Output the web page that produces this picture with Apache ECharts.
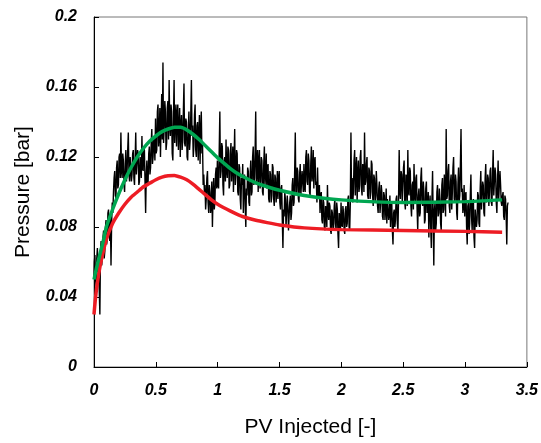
<!DOCTYPE html>
<html>
<head>
<meta charset="utf-8">
<script src="https://cdn.jsdelivr.net/npm/echarts@6/dist/echarts.min.js"></script>
<style>
  html, body { margin: 0; padding: 0; background: #fff; }
  #chart { width: 541px; height: 443px; }
</style>
</head>
<body>
<div id="chart"></div>
<script>
// Measured pressure record, one sample every 0.005 PV (20 samples per row = 0.1 PV)
const sampleStep = 0.005;
const measuredPressure = [
  0.052,0.060,0.064,0.050,0.046,0.062,0.068,0.054,0.056,0.044,0.030,0.066,0.072,0.058,0.064,0.074,0.078,0.062,0.066,0.080,
  0.084,0.070,0.074,0.088,0.090,0.076,0.072,0.086,0.058,0.082,0.094,0.088,0.100,0.108,0.112,0.098,0.096,0.114,0.118,0.102,
  0.104,0.120,0.122,0.108,0.134,0.112,0.108,0.122,0.118,0.104,0.100,0.116,0.124,0.106,0.112,0.124,0.134,0.110,0.106,0.120,
  0.120,0.106,0.110,0.122,0.124,0.108,0.104,0.118,0.134,0.110,0.116,0.124,0.122,0.104,0.106,0.120,0.120,0.108,0.132,0.114,
  0.112,0.126,0.124,0.106,0.088,0.110,0.118,0.104,0.106,0.122,0.126,0.110,0.114,0.128,0.136,0.116,0.120,0.132,0.128,0.118,
  0.142,0.122,0.124,0.146,0.150,0.126,0.132,0.148,0.120,0.140,0.156,0.130,0.174,0.128,0.136,0.152,0.146,0.124,0.128,0.148,
  0.152,0.130,0.164,0.138,0.132,0.150,0.146,0.122,0.118,0.142,0.164,0.128,0.140,0.150,0.126,0.144,0.150,0.124,0.136,0.148,
  0.120,0.138,0.144,0.124,0.130,0.146,0.162,0.128,0.126,0.142,0.140,0.120,0.118,0.136,0.146,0.124,0.130,0.144,0.164,0.132,
  0.138,0.120,0.126,0.144,0.150,0.124,0.120,0.138,0.140,0.118,0.132,0.144,0.116,0.134,0.146,0.122,0.128,0.104,0.110,0.100,
  0.104,0.090,0.096,0.108,0.112,0.094,0.088,0.104,0.100,0.088,0.092,0.106,0.080,0.098,0.108,0.090,0.094,0.110,0.114,0.102,
  0.118,0.104,0.102,0.124,0.146,0.108,0.112,0.128,0.126,0.104,0.098,0.118,0.120,0.106,0.130,0.112,0.108,0.126,0.124,0.102,
  0.104,0.122,0.128,0.106,0.116,0.126,0.100,0.118,0.136,0.104,0.110,0.124,0.122,0.100,0.098,0.116,0.114,0.096,0.090,0.108,
  0.104,0.116,0.088,0.106,0.110,0.092,0.080,0.102,0.098,0.114,0.112,0.094,0.092,0.110,0.118,0.098,0.100,0.120,0.126,0.104,
  0.108,0.122,0.146,0.104,0.114,0.124,0.100,0.118,0.124,0.102,0.106,0.120,0.118,0.100,0.098,0.116,0.126,0.104,0.110,0.122,
  0.102,0.114,0.116,0.096,0.094,0.112,0.110,0.094,0.098,0.116,0.114,0.096,0.092,0.110,0.108,0.094,0.100,0.112,0.096,0.108,
  0.112,0.094,0.090,0.102,0.104,0.084,0.068,0.090,0.086,0.100,0.096,0.080,0.080,0.098,0.092,0.078,0.078,0.094,0.098,0.084,
  0.088,0.104,0.108,0.092,0.094,0.112,0.134,0.098,0.100,0.114,0.112,0.096,0.094,0.110,0.116,0.098,0.098,0.112,0.106,0.100,
  0.116,0.102,0.100,0.120,0.124,0.106,0.104,0.122,0.118,0.100,0.098,0.116,0.126,0.106,0.110,0.124,0.102,0.118,0.120,0.104,
  0.106,0.094,0.114,0.098,0.096,0.104,0.088,0.098,0.100,0.084,0.082,0.096,0.094,0.080,0.078,0.092,0.090,0.080,0.104,0.088,
  0.084,0.094,0.092,0.078,0.076,0.090,0.088,0.078,0.080,0.092,0.096,0.082,0.078,0.094,0.090,0.076,0.068,0.088,0.086,0.078,
  0.094,0.082,0.080,0.092,0.088,0.078,0.076,0.090,0.092,0.080,0.082,0.096,0.098,0.080,0.078,0.094,0.134,0.096,0.108,0.094,
  0.100,0.118,0.124,0.098,0.112,0.120,0.094,0.110,0.118,0.100,0.104,0.120,0.124,0.102,0.098,0.116,0.114,0.100,0.134,0.104,
  0.106,0.116,0.120,0.098,0.096,0.114,0.112,0.096,0.100,0.118,0.116,0.098,0.092,0.110,0.108,0.094,0.098,0.112,0.104,0.092,
  0.088,0.102,0.106,0.088,0.094,0.104,0.100,0.086,0.084,0.100,0.098,0.084,0.090,0.102,0.082,0.096,0.096,0.084,0.088,0.098,
  0.080,0.092,0.094,0.078,0.070,0.088,0.090,0.080,0.084,0.096,0.098,0.082,0.078,0.096,0.124,0.100,0.096,0.112,0.110,0.094,
  0.104,0.114,0.118,0.094,0.090,0.110,0.108,0.092,0.124,0.100,0.098,0.114,0.112,0.092,0.086,0.104,0.106,0.090,0.116,0.098,
  0.094,0.108,0.110,0.090,0.078,0.098,0.102,0.086,0.088,0.108,0.114,0.094,0.092,0.106,0.100,0.082,0.084,0.102,0.106,0.088,
  0.090,0.100,0.074,0.092,0.098,0.080,0.068,0.096,0.112,0.084,0.058,0.090,0.094,0.078,0.082,0.100,0.104,0.086,0.088,0.102,
  0.096,0.082,0.078,0.104,0.108,0.088,0.090,0.110,0.100,0.086,0.136,0.096,0.098,0.112,0.116,0.092,0.088,0.106,0.110,0.090,
  0.100,0.114,0.120,0.096,0.094,0.110,0.106,0.088,0.084,0.104,0.114,0.094,0.098,0.116,0.136,0.100,0.102,0.088,0.092,0.104,
  0.086,0.098,0.100,0.080,0.070,0.092,0.094,0.076,0.082,0.098,0.110,0.086,0.078,0.094,0.096,0.074,0.068,0.090,0.090,0.080,
  0.084,0.100,0.098,0.082,0.080,0.102,0.112,0.090,0.090,0.106,0.104,0.088,0.086,0.108,0.116,0.094,0.096,0.110,0.108,0.092,
  0.100,0.112,0.114,0.094,0.092,0.110,0.124,0.098,0.098,0.114,0.110,0.094,0.088,0.106,0.118,0.096,0.096,0.112,0.104,0.094,
  0.092,0.098,0.100,0.086,0.084,0.098,0.096,0.086,0.070,0.092,0.094
];

// Model curves [PV, pressure]
const upperModel = [
  [0,0.050],[0.025,0.058],[0.05,0.065],[0.075,0.072],[0.10,0.080],[0.15,0.090],
  [0.20,0.099],[0.25,0.107],[0.30,0.114],[0.35,0.120],[0.40,0.125],[0.45,0.129],
  [0.50,0.132],[0.55,0.1345],[0.60,0.136],[0.65,0.137],[0.70,0.137],[0.75,0.1355],
  [0.80,0.133],[0.85,0.130],[0.90,0.1265],[0.95,0.123],[1.00,0.1195],[1.05,0.1165],
  [1.10,0.1135],[1.15,0.111],[1.20,0.109],[1.30,0.1055],[1.40,0.103],[1.50,0.101],
  [1.70,0.098],[2.00,0.0955],[2.50,0.094],[3.00,0.0945],[3.30,0.0955]
];
const lowerModel = [
  [0,0.030],[0.01,0.038],[0.025,0.047],[0.05,0.058],[0.075,0.066],[0.10,0.073],
  [0.15,0.082],[0.20,0.088],[0.25,0.093],[0.30,0.097],[0.35,0.100],[0.40,0.103],
  [0.45,0.105],[0.50,0.107],[0.55,0.1085],[0.60,0.1093],[0.65,0.1095],[0.70,0.1085],
  [0.75,0.107],[0.80,0.1045],[0.85,0.1015],[0.90,0.0985],[0.95,0.0955],[1.00,0.093],
  [1.05,0.091],[1.10,0.0892],[1.15,0.0875],[1.20,0.086],[1.30,0.084],[1.40,0.0825],
  [1.50,0.0812],[1.70,0.0795],[2.00,0.0785],[2.50,0.078],[3.00,0.0775],[3.30,0.077]
];

const xTicks = { min: 0, max: 3.5, interval: 0.5 };
const yTicks = { min: 0, max: 0.2, interval: 0.04 };

const measuredPoints = measuredPressure.map((p, i) => [+(i * sampleStep).toFixed(3), p]);

const tickFont = {
  fontFamily: 'Liberation Sans, Arial, sans-serif',
  fontSize: 16, fontWeight: 'bold', fontStyle: 'italic', color: '#000'
};
const nameFont = {
  fontFamily: 'Liberation Sans, Arial, sans-serif',
  fontSize: 21, color: '#000'
};

const chart = echarts.init(document.getElementById('chart'), null, { renderer: 'canvas' });
chart.setOption({
  animation: false,
  backgroundColor: '#fff',
  grid: { left: 94, right: 11, top: 17, bottom: 68, show: true, borderColor: '#777', borderWidth: 1 },
  xAxis: {
    type: 'value', min: xTicks.min, max: xTicks.max, interval: xTicks.interval,
    name: 'PV Injected [-]', nameLocation: 'middle', nameGap: 50, nameTextStyle: nameFont,
    axisLine: { show: true, lineStyle: { color: '#000', width: 1 } },
    axisTick: { show: true, inside: true, length: 5, lineStyle: { color: '#000' } },
    axisLabel: Object.assign({ margin: 16, formatter: v => String(+v.toFixed(2)) }, tickFont),
    splitLine: { show: false }
  },
  yAxis: {
    type: 'value', min: yTicks.min, max: yTicks.max, interval: yTicks.interval,
    name: 'Pressure [bar]', nameLocation: 'middle', nameGap: 60, nameTextStyle: nameFont,
    axisLine: { show: true, lineStyle: { color: '#000', width: 1 } },
    axisTick: { show: true, inside: true, length: 5, lineStyle: { color: '#000' } },
    axisLabel: Object.assign({ margin: 17, formatter: v => String(+v.toFixed(2)) }, tickFont),
    splitLine: { show: false }
  },
  series: [
    {
      type: 'line', data: measuredPoints, showSymbol: false, step: 'middle',
      lineStyle: { color: '#000', width: 1.4 }, z: 1
    },
    {
      type: 'line', data: lowerModel, showSymbol: false, smooth: 0.2,
      lineStyle: { color: '#ED1C24', width: 3.5 }, z: 3
    },
    {
      type: 'line', data: upperModel, showSymbol: false, smooth: 0.2,
      lineStyle: { color: '#00A651', width: 3.5 }, z: 3
    }
  ]
});
</script>
</body>
</html>
